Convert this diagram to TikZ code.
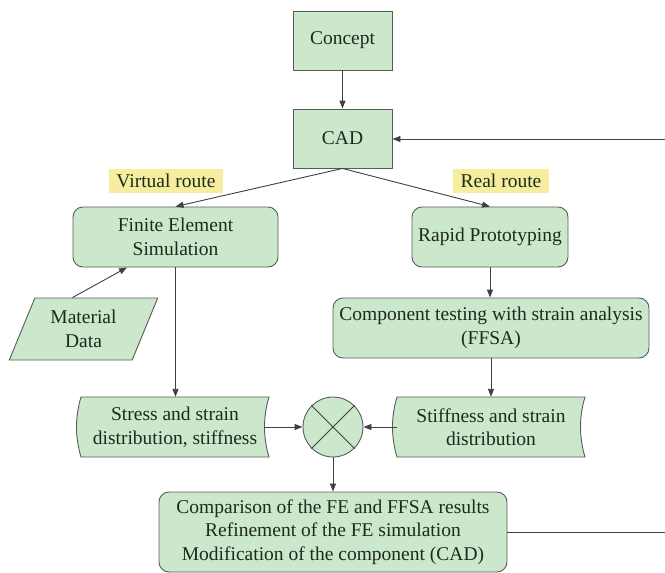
\documentclass[tikz,border=0pt]{standalone}
\usepackage{fontspec}
\setmainfont{LiberationSerif}[Extension=.ttf, UprightFont=*-Regular, BoldFont=*-Bold]
\usetikzlibrary{arrows.meta,shapes.geometric,calc}
\definecolor{boxfill}{HTML}{CBE7CC}
\definecolor{labfill}{HTML}{F6EE9E}
\definecolor{edgec}{HTML}{5A5A5A}
\definecolor{linec}{HTML}{404040}
\definecolor{txt}{HTML}{1E2A1E}
\begin{document}
\begin{tikzpicture}[x=1pt,y=-1pt,
  font=\rmfamily\fontsize{19.5}{23.5}\selectfont,
  every node/.style={text=txt, align=center, inner sep=0pt},
  sqbox/.style={draw=edgec, fill=boxfill, line width=0.9pt, minimum width=99pt, minimum height=59pt},
  rbox/.style={draw=edgec, fill=boxfill, line width=0.9pt, rounded corners=10pt},
  lab/.style={fill=labfill},
  shapeline/.style={draw=edgec, fill=boxfill, line width=0.9pt},
  arr/.style={draw=linec, line width=0.9pt, -{Triangle[length=8pt,width=6pt]}},
  ln/.style={draw=linec, line width=0.9pt}]
\useasboundingbox (0,0) rectangle (665,573);

\node[sqbox] (concept) at (342.5,40.5) {Concept};
\node[sqbox] (cad) at (342.5,138.5) {CAD};
\node[lab, minimum width=114pt, minimum height=24pt] (vr) at (166,181) {Virtual route};
\node[lab, minimum width=96pt, minimum height=24pt] (rr) at (501,181) {Real route};
\node[rbox, minimum width=205pt, minimum height=60pt] (fe) at (175.5,237) {Finite Element\\Simulation};
\node[rbox, minimum width=156pt, minimum height=60pt] (rp) at (490,237) {Rapid Prototyping};
\node[trapezium, trapezium left angle=65, trapezium right angle=115, trapezium stretches=true,
      shapeline, minimum width=149pt, minimum height=62pt] (md) at (83.5,329) {Material\\Data};
\node[rbox, minimum width=316pt, minimum height=60pt] (cp) at (491,328) {Component testing with strain analysis\\(FFSA)};

% stored-data shapes
\path[shapeline] (81,397) -- (269,397) .. controls (263,417) and (263,437) .. (269,457)
  -- (81,457) .. controls (75,437) and (75,417) .. (81,397) -- cycle;
\node[minimum width=178pt, minimum height=60pt] (ss) at (175,427) {Stress and strain\\distribution, stiffness};
\path[shapeline] (397,397) -- (585,397) .. controls (579,417) and (579,437) .. (585,457)
  -- (397,457) .. controls (391,437) and (391,417) .. (397,397) -- cycle;
\node[minimum width=188pt, minimum height=60pt] (sf) at (491,427) {Stiffness and strain\\distribution};

\node[circle, shapeline, minimum size=60pt] (x) at (333,427) {};
\draw[ln] (x.north west) -- (x.south east) (x.north east) -- (x.south west);

\node[rbox, minimum width=348pt, minimum height=80pt] (cmp) at (333,532)
  {Comparison of the FE and FFSA results\\Refinement of the FE simulation\\Modification of the component (CAD)};

\coordinate (rin) at (665,139);
\coordinate (rout) at (665,532);

\draw[arr] (concept) -- (cad);
\draw[arr] (rin) -- (rin -| cad.east);
\draw[arr] (cad.south) -- (fe.north);
\draw[arr] (cad.south) -- (rp.north);
\draw[arr] ([xshift=-11pt]md.north) -- ([xshift=-48.5pt]fe.south);
\draw[arr] (fe.south) -- (fe.south |- ss.north);
\draw[arr] (rp.south) -- (rp.south |- cp.north);
\draw[arr] (cp.south) -- (cp.south |- sf.north);
\draw[arr] (ss.east) -- (x.west);
\draw[arr] (sf.west) -- (x.east);
\draw[arr] (x.south) -- (x.south |- cmp.north);
\draw[ln] (cmp.east) -- (rout);
\end{tikzpicture}
\end{document}
